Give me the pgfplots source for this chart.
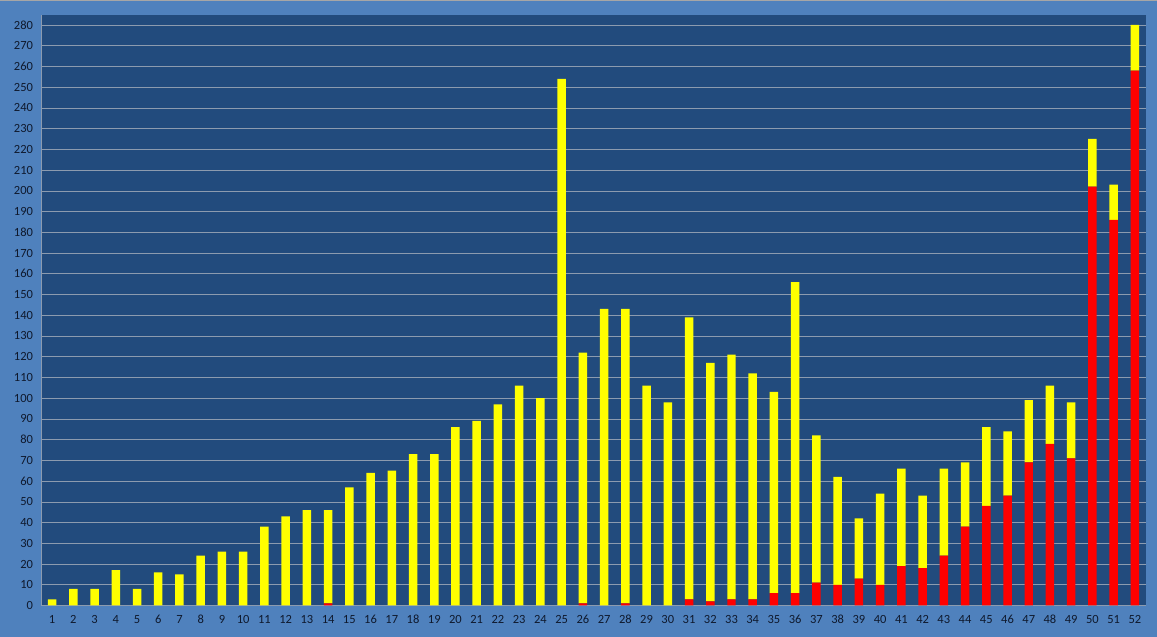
\documentclass[border=0pt]{standalone}
\usepackage{pgfplots}
\pgfplotsset{compat=1.18}
\usepackage{fontspec}
\setmainfont{Carlito}
\usetikzlibrary{backgrounds}

\definecolor{outerbg}{RGB}{79,129,189}
\definecolor{plotbg}{RGB}{34,75,125}
\definecolor{gridc}{RGB}{140,155,175}
\definecolor{barred}{RGB}{255,0,0}
\definecolor{baryel}{RGB}{255,255,0}
\definecolor{labc}{RGB}{15,25,45}

% week, red part, yellow part (total - red)
\pgfplotstableread{
x red yel
1 0 3
2 0 8
3 0 8
4 0 17
5 0 8
6 0 16
7 0 15
8 0 24
9 0 26
10 0 26
11 0 38
12 0 43
13 0 46
14 1 45
15 0 57
16 0 64
17 0 65
18 0 73
19 0 73
20 0 86
21 0 89
22 0 97
23 0 106
24 0 100
25 0 254
26 1 121
27 0 143
28 1 142
29 0 106
30 0 98
31 3 136
32 2 115
33 3 118
34 3 109
35 6 97
36 6 150
37 11 71
38 10 52
39 13 29
40 10 44
41 19 47
42 18 35
43 24 42
44 38 31
45 48 38
46 53 31
47 69 30
48 78 28
49 71 27
50 202 23
51 186 17
52 258 22
}\weeks

\begin{document}
\begin{tikzpicture}
\begin{axis}[
  scale only axis,
  width=1105pt, height=591pt,
  xmin=0.5, xmax=52.5,
  ymin=0, ymax=284.8,
  ybar stacked,
  bar width=8.5pt,
  xtick={1,...,52},
  ytick={0,10,...,280},
  ymajorgrids,
  grid style={gridc, line width=0.6pt},
  axis background/.style={fill=plotbg},
  axis line style={gridc},
  axis x line*=bottom,
  axis y line*=left,
  tick style={draw=none},
  tick label style={font=\fontsize{12.5}{13}\selectfont, text=labc},
  /pgf/number format/assume math mode=true,
  xticklabel style={yshift=-6pt},
  yticklabel style={xshift=-5pt},
]
\addplot[fill=barred, draw=none] table[x=x, y=red] {\weeks};
\addplot[fill=baryel, draw=none] table[x=x, y=yel] {\weeks};
\end{axis}
\begin{scope}[on background layer]
\fill[outerbg] ([shift={(-41pt,-31.3pt)}]current axis.south west) rectangle ([shift={(11pt,15pt)}]current axis.north east);
\draw[gray!70, line width=1pt] ([shift={(-41pt,14.5pt)}]current axis.north west) -- ([shift={(11pt,14.5pt)}]current axis.north east);
\end{scope}
\end{tikzpicture}
\end{document}
